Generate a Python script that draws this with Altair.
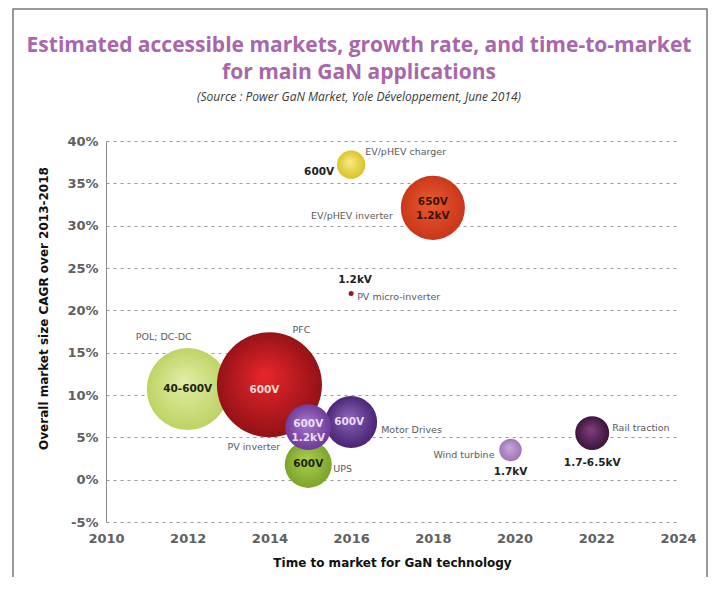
import altair as alt
import pandas as pd

# ---------------- data ----------------
APPS = ["POL; DC-DC", "PFC", "UPS", "Motor Drives", "PV inverter",
        "EV/pHEV charger", "EV/pHEV inverter", "PV micro-inverter",
        "Wind turbine", "Rail traction"]
TIME_TO_MARKET = [2012.0, 2014.0, 2014.95, 2016.0, 2014.95,
                  2016.0, 2018.0, 2016.0, 2019.9, 2021.9]
CAGR = [10.7, 11.2, 1.8, 6.8, 6.2, 37.2, 32.1, 22.0, 3.5, 5.5]
MARKET = [670, 1100, 220, 270, 210, 80, 410, 2.5, 50, 115]   # relative accessible market (bubble area)
VOLTAGES = ["40-600V", "600V", "600V", "600V", "600V\n1.2kV",
            "600V", "650V\n1.2kV", "1.2kV", "1.7kV", "1.7-6.5kV"]
YEAR_TICKS = [2010, 2012, 2014, 2016, 2018, 2020, 2022, 2024]
CAGR_TICKS = [-5, 0, 5, 10, 15, 20, 25, 30, 35, 40]

df = pd.DataFrame({"app": APPS, "year": TIME_TO_MARKET, "cagr": CAGR,
                   "market": MARKET, "volt": VOLTAGES})

# ---------------- styles ----------------
HILITE = {"POL; DC-DC": "#e2eda6", "PFC": "#e8262b", "UPS": "#abd04e",
          "Motor Drives": "#8d62bb", "PV inverter": "#a678cc",
          "EV/pHEV charger": "#f6ec86", "EV/pHEV inverter": "#ea5a2c",
          "PV micro-inverter": "#a32222", "Wind turbine": "#c8a8da",
          "Rail traction": "#80407f"}
BASE = {"POL; DC-DC": "#b9d15e", "PFC": "#8c1015", "UPS": "#78a028",
        "Motor Drives": "#43206c", "PV inverter": "#6a3495",
        "EV/pHEV charger": "#d8bf1f", "EV/pHEV inverter": "#c6341a",
        "PV micro-inverter": "#8a1616", "Wind turbine": "#9a70b2",
        "Rail traction": "#351034"}
# (align, dx, dy) for the application names
NAME_POS = {"POL; DC-DC": ("center", -24, -52), "PFC": ("center", 32, -55),
            "UPS": ("left", 25, 5), "Motor Drives": ("left", 30, 8),
            "PV inverter": ("right", -28, 20), "EV/pHEV charger": ("left", 14, -13),
            "EV/pHEV inverter": ("right", -40, 8), "PV micro-inverter": ("left", 6, 4),
            "Wind turbine": ("right", -16, 5), "Rail traction": ("left", 20, -5)}
# (align, dx, dy, color) for the voltage labels (dy is the first line's offset)
VOLT_POS = {"POL; DC-DC": ("center", 0, 0, "#1e2410"), "PFC": ("center", -5, 5, "#f6d8d2"),
            "UPS": ("center", 0, 0, "#1e2410"), "Motor Drives": ("center", -2, 0, "#eadcf4"),
            "PV inverter": ("center", 0, -3, "#eadcf4"), "EV/pHEV charger": ("right", -17, 7, "#222222"),
            "EV/pHEV inverter": ("center", 0, -6, "#3a140a"), "PV micro-inverter": ("center", 4, -13, "#222222"),
            "Wind turbine": ("center", 0, 22, "#222222"), "Rail traction": ("center", 0, 30, "#222222")}

FONT = "DejaVu Sans"

x_enc = alt.X("year:Q",
              scale=alt.Scale(domain=[2010, 2024], nice=False, zero=False),
              axis=alt.Axis(values=YEAR_TICKS, format="d", grid=False, ticks=False,
                            domain=False, labelFlush=False, labelPadding=10,
                            labelFont=FONT, labelFontSize=13, labelFontWeight="bold",
                            labelColor="#606060",
                            title="Time to market for GaN technology",
                            titleFont=FONT, titleFontSize=12, titleFontWeight="bold",
                            titleColor="#111111", titlePadding=12))
y_enc = alt.Y("cagr:Q",
              scale=alt.Scale(domain=[-5, 40], nice=False, zero=False),
              axis=alt.Axis(values=CAGR_TICKS, labelExpr="datum.value + '%'",
                            grid=True, gridDash=[3, 4], gridColor="#9a9a9a", gridWidth=1.2,
                            ticks=False, domain=True, domainColor="#8a8a8a",
                            labelFlush=False, labelPadding=8,
                            labelFont=FONT, labelFontSize=13, labelFontWeight="bold",
                            labelColor="#606060",
                            title="Overall market size CAGR over 2013-2018",
                            titleFont=FONT, titleFontSize=12, titleFontWeight="bold",
                            titleColor="#111111", titleX=-56, titleY=167))
size_enc = alt.Size("market:Q", scale=alt.Scale(domain=[0, 1100], range=[0, 11025]),
                    legend=None)

base = alt.Chart(df)

frame = alt.Chart(pd.DataFrame({"f": [0]})).mark_rect(
    filled=False, stroke="#7a7a7a", strokeWidth=1.5
).encode(x=alt.value(-93), x2=alt.value(601), y=alt.value(-132), y2=alt.value(470))

layers = [frame]
for app in APPS:
    grad = {"gradient": "radial", "x1": 0.45, "y1": 0.4, "r1": 0,
            "x2": 0.5, "y2": 0.5, "r2": 0.55,
            "stops": [{"offset": 0, "color": HILITE[app]},
                      {"offset": 1, "color": BASE[app]}]}
    layers.append(
        base.transform_filter(alt.datum.app == app)
        .mark_circle(opacity=1, fill=grad, strokeWidth=0)
        .encode(x=x_enc, y=y_enc, size=size_enc)
    )

for app in APPS:
    al, dx, dy = NAME_POS[app]
    layers.append(
        base.transform_filter(alt.datum.app == app)
        .mark_text(align=al, baseline="middle", dx=dx, dy=dy, font=FONT,
                   fontSize=9.5, color="#5a5a5a")
        .encode(x=x_enc, y=y_enc, text="app:N")
    )
    al, dx, dy, col = VOLT_POS[app]
    layers.append(
        base.transform_filter(alt.datum.app == app)
        .mark_text(align=al, baseline="middle", dx=dx, dy=dy, font=FONT,
                   fontSize=10.5, fontWeight="bold", color=col,
                   lineBreak="\n", lineHeight=14)
        .encode(x=x_enc, y=y_enc, text="volt:N")
    )

# the frame rectangle reaches 132px above the plot, so the title offset is
# measured from there (negative offset brings the title back down)
chart = alt.layer(*layers).properties(
    width=572, height=381,
    padding={"left": 98, "top": 133, "right": 30, "bottom": 55},
    autosize=alt.AutoSizeParams(type="none"),
    background="white",
    title=alt.TitleParams(
        text=["Estimated accessible markets, growth rate, and time-to-market",
              "for main GaN applications"],
        subtitle="(Source : Power GaN Market, Yole Développement, June 2014)",
        anchor="middle", frame="group", dx=-33, offset=-95,
        font="Open Sans", fontSize=21, fontWeight="bold", color="#a966ac",
        lineHeight=27,
        subtitleFont="Open Sans", subtitleFontStyle="italic", subtitleFontSize=12,
        subtitleColor="#3a3a3a", subtitlePadding=9),
).configure_view(stroke=None)

chart.save("out.html", embed_options={"renderer": "svg", "actions": False})
